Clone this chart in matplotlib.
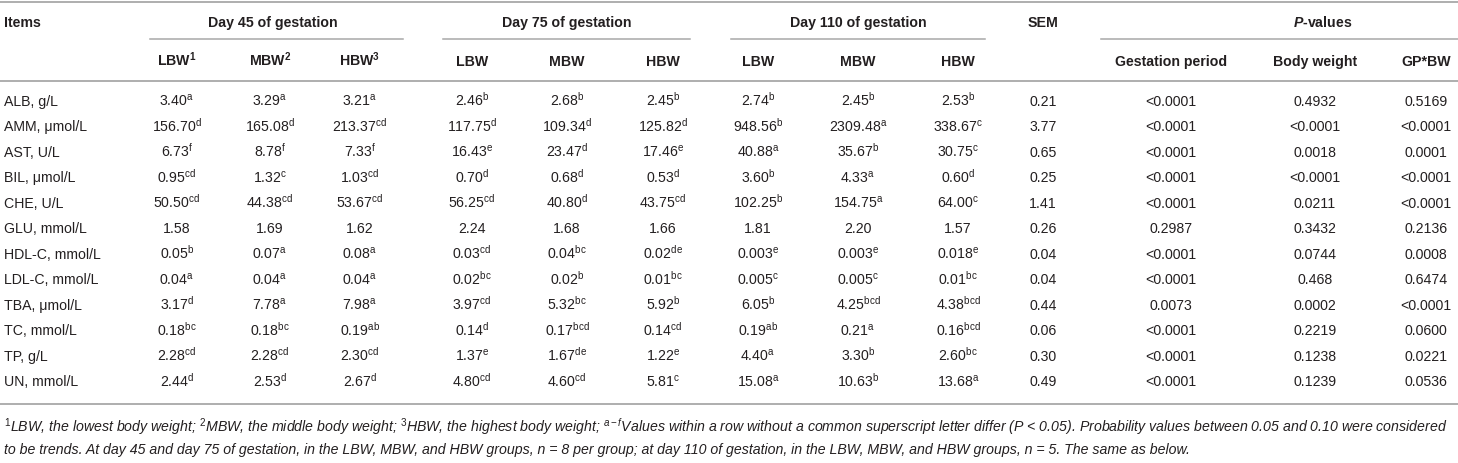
import matplotlib
matplotlib.use("Agg")
import matplotlib.pyplot as plt

plt.rcParams['font.family'] = ['Liberation Sans', 'DejaVu Sans']
plt.rcParams['mathtext.fontset'] = 'custom'
plt.rcParams['mathtext.rm'] = 'Liberation Sans'
plt.rcParams['mathtext.it'] = 'Liberation Sans:italic'
plt.rcParams['mathtext.bf'] = 'Liberation Sans:bold'
plt.rcParams['mathtext.bfit'] = 'Liberation Sans:italic:bold'

# table data, "value^letters"
items = ["ALB, g/L", "AMM, μmol/L", "AST, U/L", "BIL, μmol/L", "CHE, U/L", "GLU, mmol/L",
         "HDL-C, mmol/L", "LDL-C, mmol/L", "TBA, μmol/L", "TC, mmol/L", "TP, g/L", "UN, mmol/L"]
d45_lbw = ["3.40^a", "156.70^d", "6.73^f", "0.95^cd", "50.50^cd", "1.58",
           "0.05^b", "0.04^a", "3.17^d", "0.18^bc", "2.28^cd", "2.44^d"]
d45_mbw = ["3.29^a", "165.08^d", "8.78^f", "1.32^c", "44.38^cd", "1.69",
           "0.07^a", "0.04^a", "7.78^a", "0.18^bc", "2.28^cd", "2.53^d"]
d45_hbw = ["3.21^a", "213.37^cd", "7.33^f", "1.03^cd", "53.67^cd", "1.62",
           "0.08^a", "0.04^a", "7.98^a", "0.19^ab", "2.30^cd", "2.67^d"]
d75_lbw = ["2.46^b", "117.75^d", "16.43^e", "0.70^d", "56.25^cd", "2.24",
           "0.03^cd", "0.02^bc", "3.97^cd", "0.14^d", "1.37^e", "4.80^cd"]
d75_mbw = ["2.68^b", "109.34^d", "23.47^d", "0.68^d", "40.80^d", "1.68",
           "0.04^bc", "0.02^b", "5.32^bc", "0.17^bcd", "1.67^de", "4.60^cd"]
d75_hbw = ["2.45^b", "125.82^d", "17.46^e", "0.53^d", "43.75^cd", "1.66",
           "0.02^de", "0.01^bc", "5.92^b", "0.14^cd", "1.22^e", "5.81^c"]
d110_lbw = ["2.74^b", "948.56^b", "40.88^a", "3.60^b", "102.25^b", "1.81",
            "0.003^e", "0.005^c", "6.05^b", "0.19^ab", "4.40^a", "15.08^a"]
d110_mbw = ["2.45^b", "2309.48^a", "35.67^b", "4.33^a", "154.75^a", "2.20",
            "0.003^e", "0.005^c", "4.25^bcd", "0.21^a", "3.30^b", "10.63^b"]
d110_hbw = ["2.53^b", "338.67^c", "30.75^c", "0.60^d", "64.00^c", "1.57",
            "0.018^e", "0.01^bc", "4.38^bcd", "0.16^bcd", "2.60^bc", "13.68^a"]
sem = ["0.21", "3.77", "0.65", "0.25", "1.41", "0.26", "0.04", "0.04", "0.44", "0.06", "0.30", "0.49"]
p_gp = ["<0.0001", "<0.0001", "<0.0001", "<0.0001", "<0.0001", "0.2987",
        "<0.0001", "<0.0001", "0.0073", "<0.0001", "<0.0001", "<0.0001"]
p_bw = ["0.4932", "<0.0001", "0.0018", "<0.0001", "0.0211", "0.3432",
        "0.0744", "0.468", "0.0002", "0.2219", "0.1238", "0.1239"]
p_gpbw = ["0.5169", "<0.0001", "0.0001", "<0.0001", "<0.0001", "0.2136",
          "0.0008", "0.6474", "<0.0001", "0.0600", "0.0221", "0.0536"]

columns = [d45_lbw, d45_mbw, d45_hbw, d75_lbw, d75_mbw, d75_hbw,
           d110_lbw, d110_mbw, d110_hbw, sem, p_gp, p_bw, p_gpbw]
sub_headers = ["LBW$^{\\mathbf{1}}$", "MBW$^{\\mathbf{2}}$", "HBW$^{\\mathbf{3}}$",
               "LBW", "MBW", "HBW", "LBW", "MBW", "HBW", "",
               "Gestation period", "Body weight", "GP*BW"]
groups = ["Day 45 of gestation", "Day 75 of gestation", "Day 110 of gestation", "$\\mathbfit{P}$-values"]

footnote1 = ("$^{1}$LBW, the lowest body weight; $^{2}$MBW, the middle body weight; "
             "$^{3}$HBW, the highest body weight; $^{a-f}$Values within a row without a common "
             "superscript letter differ (P < 0.05). Probability values between 0.05 and 0.10 were considered")
footnote2 = ("to be trends. At day 45 and day 75 of gestation, in the LBW, MBW, and HBW groups, "
             "n = 8 per group; at day 110 of gestation, in the LBW, MBW, and HBW groups, n = 5. The same as below.")

# layout (pixels)
W, H = 1458, 464
col_x = [177, 270, 360, 472, 567, 663, 758, 858, 958, 1043, 1171, 1315, 1426]
group_x = [273, 567, 858, 1323]
group_span = [(150, 403), (443, 690), (731, 985), (1101, 1458)]
row0, row_h = 101.5, 25.5
txt = '#231f20'
rule = '#a8a8a8'
fs = 10.2


def fmt(v):
    if '^' in v:
        num, sup = v.split('^')
        return num + '$^{\\mathrm{' + sup + '}}$'
    return v


fig = plt.figure(figsize=(W / 100, H / 100), dpi=100)
ax = fig.add_axes([0, 0, 1, 1])
ax.set_xlim(0, W)
ax.set_ylim(H, 0)
ax.axis('off')

# rules
for y in [3, 82, 405]:
    ax.plot([0, W], [y, y], color=rule, lw=1.3)
for x0, x1 in group_span:
    ax.plot([x0, x1], [40, 40], color=rule, lw=1.1)

# headers
ax.text(4, 27, "Items", fontsize=fs, fontweight='bold', color=txt, va='baseline')
ax.text(col_x[9], 27, "SEM", fontsize=fs, fontweight='bold', color=txt, va='baseline', ha='center')
for gx, g in zip(group_x, groups):
    ax.text(gx, 27, g, fontsize=fs, fontweight='bold', color=txt, va='baseline', ha='center')
for cx, s in zip(col_x, sub_headers):
    ax.text(cx, 66, s, fontsize=fs, fontweight='bold', color=txt, va='baseline', ha='center')

# body
for i, item in enumerate(items):
    yb = row0 + i * row_h + 4.5
    ax.text(4, yb, item, fontsize=fs, color=txt, va='baseline')
    for cx, col in zip(col_x, columns):
        ax.text(cx, yb, fmt(col[i]), fontsize=fs, color=txt, va='baseline', ha='center')

# footnotes
ax.text(4, 432, footnote1, fontsize=10.2, style='italic', color=txt, va='baseline')
ax.text(4, 454, footnote2, fontsize=10.2, style='italic', color=txt, va='baseline')

fig.savefig("out.png", dpi=100)
